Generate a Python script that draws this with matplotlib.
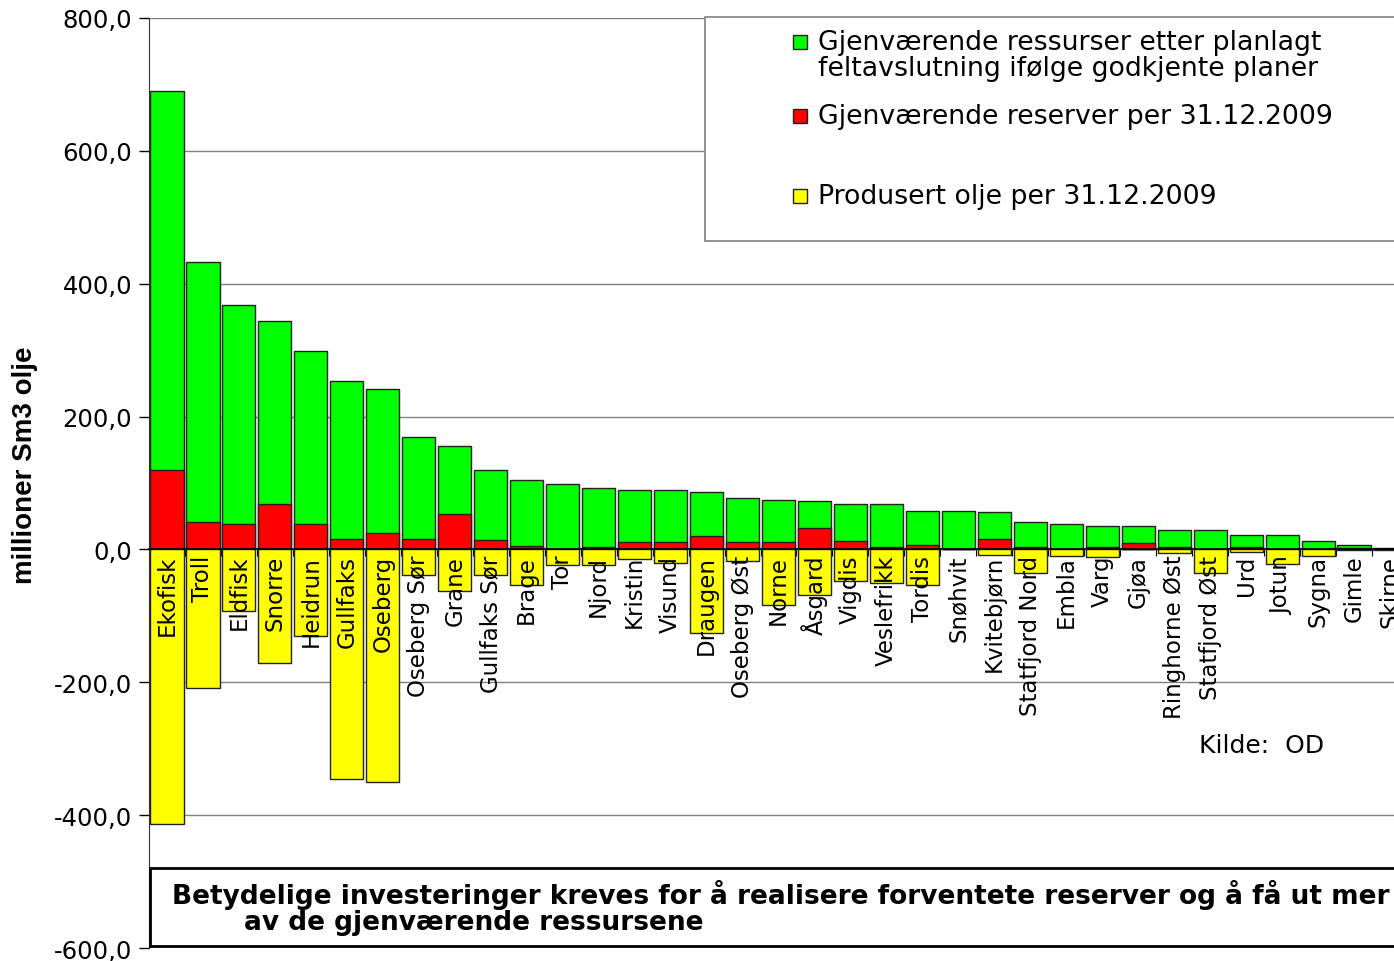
import matplotlib
matplotlib.use('Agg')
import matplotlib.pyplot as plt
import matplotlib.patches as mpatches
from matplotlib.ticker import FuncFormatter, FixedLocator

# data (millioner Sm3 olje)
fields = ['Ekofisk', 'Troll', 'Eldfisk', 'Snorre', 'Heidrun', 'Gullfaks', 'Oseberg',
          'Oseberg Sør', 'Grane', 'Gullfaks Sør', 'Brage', 'Tor', 'Njord', 'Kristin',
          'Visund', 'Draugen', 'Oseberg Øst', 'Norne', 'Åsgard', 'Vigdis', 'Veslefrikk',
          'Tordis', 'Snøhvit', 'Kvitebjørn', 'Statfjord Nord', 'Embla', 'Varg', 'Gjøa',
          'Ringhorne Øst', 'Statfjord Øst', 'Urd', 'Jotun', 'Sygna', 'Gimle', 'Skirne']
ressurser = [690, 433, 368, 344, 298, 253, 241, 170, 156, 119, 105, 99, 93, 90,
             89, 87, 77, 75, 73, 69, 68, 58, 58, 57, 42, 38, 36, 36,
             30, 30, 22, 22, 12, 6, 2]
reserver = [119, 41, 39, 68, 38, 15, 24, 15, 53, 14, 5, 1, 3, 11,
            11, 20, 11, 11, 33, 12, 4, 6, 0, 15, 3, 1, 4, 9,
            4, 1, 4, 1, 1, 2, 1]
produsert = [413, 208, 92, 171, 131, 346, 350, 38, 63, 38, 53, 24, 24, 14,
             20, 126, 18, 83, 69, 47, 50, 54, 0, 9, 36, 10, 12, 0,
             6, 35, 4, 22, 10, 1, 1]

GREEN = '#00FF00'
RED = '#FF0000'
YELLOW = '#FFFF00'
EDGE = '#222222'

W, H = 1394, 962
fig = plt.figure(figsize=(W / 100, H / 100), dpi=100)
ax = fig.add_axes([149 / W, 1 - 949 / H, 1 - 149 / W, (949 - 19) / H])

x = list(range(len(fields)))
bw = 0.92
ax.bar(x, ressurser, width=bw, color=GREEN, edgecolor=EDGE, linewidth=1, zorder=3)
ax.bar(x, reserver, width=bw, color=RED, edgecolor=EDGE, linewidth=1, zorder=3)
ax.bar(x, [-p for p in produsert], width=bw, color=YELLOW, edgecolor=EDGE,
       linewidth=1, zorder=3)

ax.set_xlim(-0.5, (W - 166) / 36)
ax.set_ylim(-600, 800)
ax.set_yticks(range(-600, 801, 200))
ax.yaxis.set_major_formatter(FuncFormatter(lambda v, p: f'{v:.1f}'.replace('.', ',')))
ax.tick_params(axis='y', labelsize=17.5, length=7, direction='out', width=1, pad=5)
ax.grid(axis='y', color='#808080', linewidth=1, zorder=0)
ax.set_axisbelow(True)

for s in ['top', 'right']:
    ax.spines[s].set_visible(False)
ax.spines['left'].set_color('#333333')
ax.spines['bottom'].set_position(('data', 0))
ax.spines['bottom'].set_color('black')
ax.spines['bottom'].set_linewidth(1.2)
ax.spines['bottom'].set_zorder(4)
ax.xaxis.set_major_locator(FixedLocator([i + 0.5 for i in x]))
ax.tick_params(axis='x', direction='out', length=5, labelbottom=False)

for i, name in enumerate(fields):
    ax.text(i, -8, name, rotation=90, ha='center', va='top', fontsize=16.5,
            zorder=5)

fig.text(25 / W, 1 - 465 / H, 'millioner Sm3 olje', rotation=90, ha='center',
         va='center', fontsize=20, fontweight='bold', family='Liberation Sans')

# legend box
fig.patches.append(mpatches.Rectangle((705 / W, 1 - 242 / H), 0.6, (242 - 18) / H,
                                      transform=fig.transFigure, facecolor='white',
                                      edgecolor='#808080', linewidth=1.2, zorder=10))
legend_items = [(GREEN, 43, 'Gjenværende ressurser etter planlagt\nfeltavslutning ifølge godkjente planer'),
                (RED, 117, 'Gjenværende reserver per 31.12.2009'),
                (YELLOW, 197, 'Produsert olje per 31.12.2009')]
for col, yc, label in legend_items:
    fig.patches.append(mpatches.Rectangle((793 / W, 1 - (yc + 7) / H), 14 / W, 14 / H,
                                          transform=fig.transFigure, facecolor=col,
                                          edgecolor='#222222', linewidth=1, zorder=11))
    fig.text(818 / W, 1 - (yc - 13) / H, label, ha='left', va='top', fontsize=19.3,
             linespacing=1.0, zorder=12)

fig.text(1199 / W, 1 - 746 / H, 'Kilde:  OD', ha='left', va='center', fontsize=18)

# bottom message box
fig.patches.append(mpatches.Rectangle((150 / W, 1 - 947 / H), 0.95, (947 - 869) / H,
                                      transform=fig.transFigure, facecolor='white',
                                      edgecolor='black', linewidth=2, zorder=10))
fig.text(172 / W, 1 - 895 / H, 'Betydelige investeringer kreves for å realisere forventete reserver og å få ut mer',
         ha='left', va='center', fontsize=19, fontweight='bold', zorder=12)
fig.text(244 / W, 1 - 923 / H, 'av de gjenværende ressursene', ha='left', va='center',
         fontsize=19, fontweight='bold', zorder=12)

fig.savefig('out.png', dpi=100, facecolor='white')
